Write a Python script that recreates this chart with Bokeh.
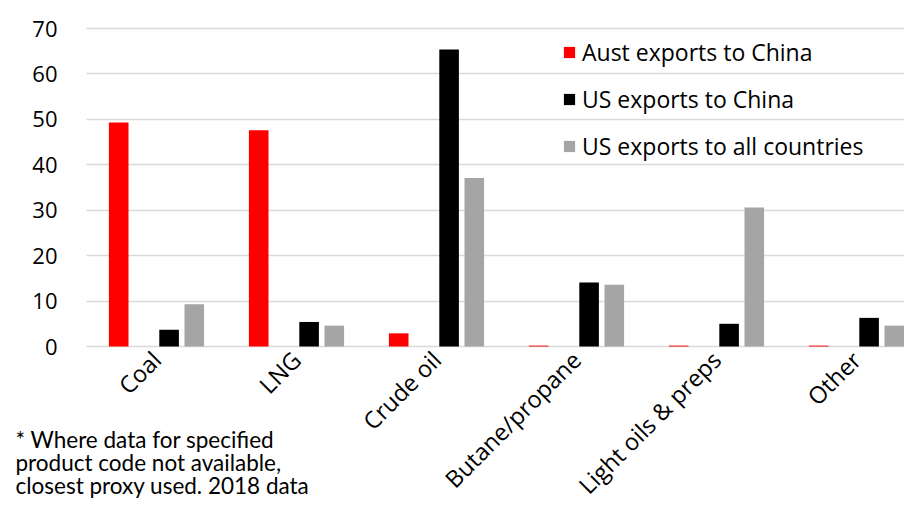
import math
from bokeh.plotting import figure
from bokeh.models import Range1d, Legend, LegendItem, Label, FixedTicker, ColumnDataSource, Grid
from bokeh.transform import dodge
from bokeh.embed import file_html
from bokeh.resources import INLINE

# ---- data ----
categories = ["Coal", "LNG", "Crude oil", "Butane/propane", "Light oils & preps", "Other"]
aust_to_china = [49.3, 47.6, 2.9, 0.2, 0.2, 0.2]
us_to_china = [3.7, 5.4, 65.4, 14.1, 5.0, 6.3]
us_to_all = [9.3, 4.6, 37.1, 13.6, 30.6, 4.6]
series_names = ["Aust exports to China", "US exports to China", "US exports to all countries"]
series_colors = ["#FF0000", "#000000", "#A5A5A5"]
y_ticks = [0, 10, 20, 30, 40, 50, 60, 70]
footnote_lines = ["* Where data for specified",
                  "product code not available,",
                  "closest proxy used. 2018 data"]

idx = list(range(len(categories)))
source = ColumnDataSource(dict(x=idx, a=aust_to_china, b=us_to_china, c=us_to_all))

# ---- layout (pixels) ----
W, H = 904, 506
plot_left = 86          # left edge of the category area
plot_top = 28           # pixel of y = 70
plot_zero = 346         # pixel of y = 0
cat_px = 140.0          # width of one category
y_max_tick = 70
px_per_unit = (plot_zero - plot_top) / y_max_tick

x_start = -0.5 - plot_left / cat_px
x_end = -0.5 + (W - plot_left) / cat_px
y_start = -(H - plot_zero) / px_per_unit
y_end = y_max_tick + plot_top / px_per_unit

p = figure(width=W, height=H,
           x_range=Range1d(x_start, x_end),
           y_range=Range1d(y_start, y_end),
           output_backend="svg", toolbar_location=None,
           min_border_left=0, min_border_right=0,
           min_border_top=0, min_border_bottom=0)
p.outline_line_color = None
p.background_fill_color = "white"
p.border_fill_color = "white"

# gridlines limited to the category area
p.xgrid.grid_line_color = None
p.ygrid.grid_line_color = None
if "cross_bounds" in Grid.properties():
    g = Grid(dimension=1, ticker=FixedTicker(ticks=y_ticks), cross_bounds=(-0.5, x_end),
             grid_line_color="#D9D9D9", grid_line_width=1.5)
    p.add_layout(g)
else:
    p.segment(x0=[-0.5] * len(y_ticks), x1=[x_end] * len(y_ticks), y0=y_ticks, y1=y_ticks,
              line_color="#D9D9D9", line_width=1.5)

offsets = [-0.27, 0.09, 0.27]
cols = ["a", "b", "c"]
renderers = []
for col, off, color in zip(cols, offsets, series_colors):
    r = p.vbar(x=dodge("x", off, range=p.x_range), top=col, width=0.14, bottom=0,
               source=source, fill_color=color, line_color=None)
    renderers.append(r)

# axes
yax = p.yaxis[0]
yax.fixed_location = -0.5
yax.ticker = FixedTicker(ticks=y_ticks)
yax.axis_line_color = None
yax.major_tick_line_color = None
yax.minor_tick_line_color = None
yax.major_label_standoff = 23
yax.major_label_text_font = "Open Sans"
yax.major_label_text_font_size = "22px"
yax.major_label_text_color = "#000000"

xax = p.xaxis[0]
xax.fixed_location = 0
xax.ticker = FixedTicker(ticks=idx)
xax.major_label_overrides = {i: c for i, c in zip(idx, categories)}
xax.major_label_orientation = math.pi / 4
xax.axis_line_color = None
xax.major_tick_line_color = None
xax.minor_tick_line_color = None
xax.major_label_standoff = 3
xax.major_label_text_font = "Open Sans"
xax.major_label_text_font_size = "23.5px"
xax.major_label_text_color = "#000000"

# legend
items = [LegendItem(label=n, renderers=[r]) for n, r in zip(series_names, renderers)]
legend = Legend(items=items, location=(562, 344), orientation="vertical",
                padding=0, margin=0, spacing=15, glyph_width=14, glyph_height=14,
                label_standoff=6, label_height=32,
                label_text_font="Open Sans", label_text_font_size="23px",
                label_text_color="#000000",
                background_fill_alpha=0, border_line_color=None)
p.add_layout(legend)

# footnote
for i, line in enumerate(footnote_lines):
    p.add_layout(Label(x=15, y=67 - 23 * i, x_units="screen", y_units="screen",
                       text=line, text_font="Lato", text_font_size="22.5px",
                       text_color="#000000", text_baseline="alphabetic"))

open("out.html", "w").write(file_html(p, INLINE))
